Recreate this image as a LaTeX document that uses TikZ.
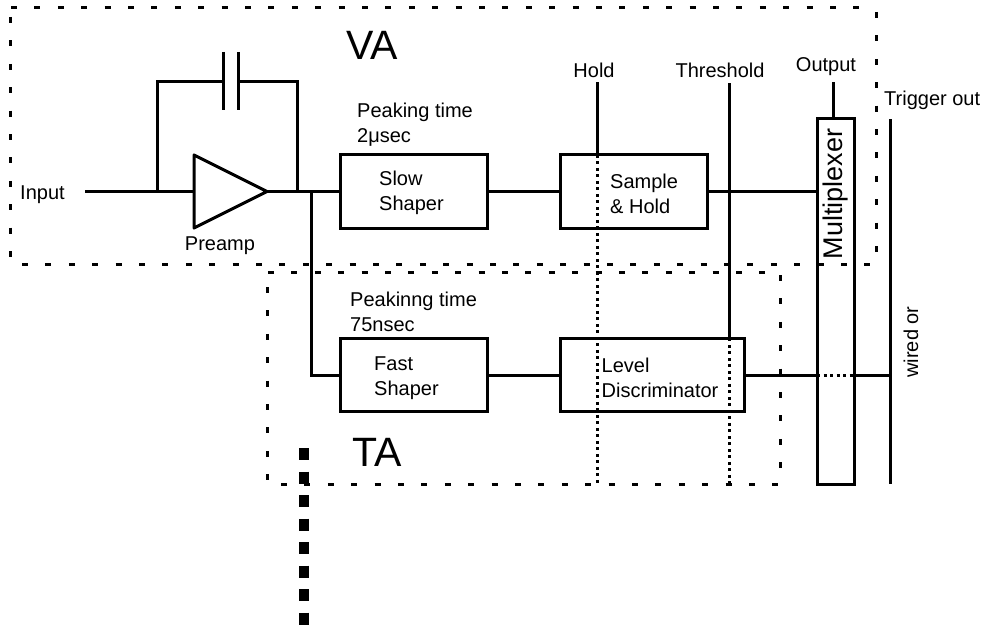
\documentclass[tikz,border=0pt]{standalone}
\usepackage{fontspec}
\setmainfont{Liberation Sans}
\usetikzlibrary{positioning, calc, shapes.geometric}
\tikzset{
  block/.style={
    draw,
    line width=3pt,
    minimum width=147pt,
    minimum height=73.5pt,
    inner sep=0pt,
    outer sep=0pt,
  },
  amp/.style={
    draw,
    isosceles triangle,
    isosceles triangle apex angle=53.13,
    minimum height=73pt,
    inner sep=0pt,
    outer sep=0pt,
    line width=3pt,
    line join=round,
  },
  txt/.style={
    font=\fontsize{20}{25}\selectfont,
    align=left,
    inner sep=0pt,
  },
  bigtxt/.style={font=\fontsize{41}{41}\selectfont, inner sep=0pt},
  wire/.style={line width=3pt},
  probe/.style={line width=3pt, dash pattern=on 3pt off 3.5pt},
  frame/.style={line width=3pt, dash pattern=on 6pt off 17.4pt},
  bigdash/.style={line width=10.5pt, dash pattern=on 12pt off 11.5pt},
}
\begin{document}
\begin{tikzpicture}[x=1pt, y=-1pt]
\useasboundingbox (0,0) rectangle (984,626);

% Amplifier and shapers
\node[amp, anchor=apex] (preamp) at (267,191.5) {};
\node[block, anchor=west] (slow) at (340,191.5) {};
\node[block, right=73.5pt of slow] (sample) {};
\node[block, below=110pt of slow] (fast) {};
\node[block, right=73.5pt of fast, minimum width=183.5pt] (level) {};
\node[block, anchor=north west, minimum width=37pt, minimum height=366pt] (mux) at (817,118) {};

% Free ends
\coordinate (in) at (85,191.5);
\coordinate (fbl) at (157,191.5);
\coordinate (fbr) at (297,191.5);
\coordinate (branch) at (311.5,191.5);
\coordinate (capl) at (223,81);
\coordinate (capr) at (238,81);
\coordinate (holdtop) at (597,82);
\coordinate (holdbot) at (597,484);
\coordinate (thrtop) at (729,83);
\coordinate (thrbot) at (729,484);
\coordinate (outtop) at (833,82);
\coordinate (trigtop) at (890,119);
\coordinate (trigbot) at (890,484);

% Labels
\node[txt, anchor=west] (lblinput) at (20,194.5) {Input};
\node[txt] (lblpreamp) at (220,246) {Preamp};
\node[txt, anchor=south west] (lblslowpk) at (357,147) {Peaking time\\2μsec};
\node[txt, anchor=south west] (lblfastpk) at (350,332) {Peakinng time\\75nsec};
\node[txt, anchor=west] (lblslow) at ([xshift=39pt, yshift=-1pt]slow.west) {Slow\\Shaper};
\node[txt, anchor=west] (lblfast) at ([xshift=34pt, yshift=-3.5pt]fast.west) {Fast\\Shaper};
\node[txt, anchor=west] (lblsample) at ([xshift=49.5pt, yshift=-2.5pt]sample.west) {Sample\\\&~Hold};
\node[txt, anchor=west] (lbllevel) at ([xshift=41pt, yshift=-2.5pt]level.west) {Level\\Discriminator};
\node[txt] (lblhold) at (594,70) {Hold};
\node[txt] (lblthr) at (720,70) {Threshold};
\node[txt] (lblout) at (826,67) {Output};
\node[txt, anchor=west] (lbltrig) at (884,100) {Trigger out};
\node[txt, rotate=90] (lblwired) at (911,342) {wired or};
\node[txt, rotate=90, font=\fontsize{27}{27}\selectfont] (lblmux) at (836,194) {Multiplexer};
\node[bigtxt] (lblva) at (372,45) {VA};
\node[bigtxt] (lblta) at (377,452) {TA};

% Signal path
\draw[wire] (in) -- (preamp.west);
\draw[wire] (preamp.apex) -- (slow.west);
\draw[wire] (slow.east) -- (sample.west);
\draw[wire] (sample.east) -- (sample.east -| mux.west);
\draw[wire] (fast.east) -- (level.west);
\draw[wire] (level.east) -- (level.east -| mux.west);
\draw[probe] (level.east -| mux.west) -- (level.east -| mux.east);
\draw[wire] (level.east -| mux.east) -- (level.east -| trigbot);
\draw[wire] (branch) |- (fast.west);

% Feedback capacitor
\draw[wire] (fbl) |- (capl);
\draw[wire] (fbr) |- (capr);
\draw[wire] ($(capl)+(0,-29)$) -- ($(capl)+(0,29)$);
\draw[wire] ($(capr)+(0,-29)$) -- ($(capr)+(0,29)$);

% Control lines
\draw[wire] (holdtop) -- (holdtop |- sample.north);
\draw[probe] (holdtop |- sample.north) -- (holdbot);
\draw[wire] (thrtop) -- (thrtop |- level.north);
\draw[probe] (thrtop |- level.north) -- (thrbot);
\draw[wire] (outtop) -- (outtop |- mux.north);
\draw[wire] (trigtop) -- (trigbot);

% VA and TA frames
\draw[frame] (11,8) -- (876,8);
\draw[frame] (10,17) -- (10,262);
\draw[frame] (22,264.5) -- (872,264.5);
\draw[frame] (876,12) -- (876,256);
\draw[frame] (268,272) -- (781,272);
\draw[frame] (267,287) -- (267,482);
\draw[frame] (281,484) -- (781,484);
\draw[frame] (780,275) -- (780,472);

% Loose thick dashes
\draw[bigdash] (304,448) -- (304,626);

\end{tikzpicture}
\end{document}
